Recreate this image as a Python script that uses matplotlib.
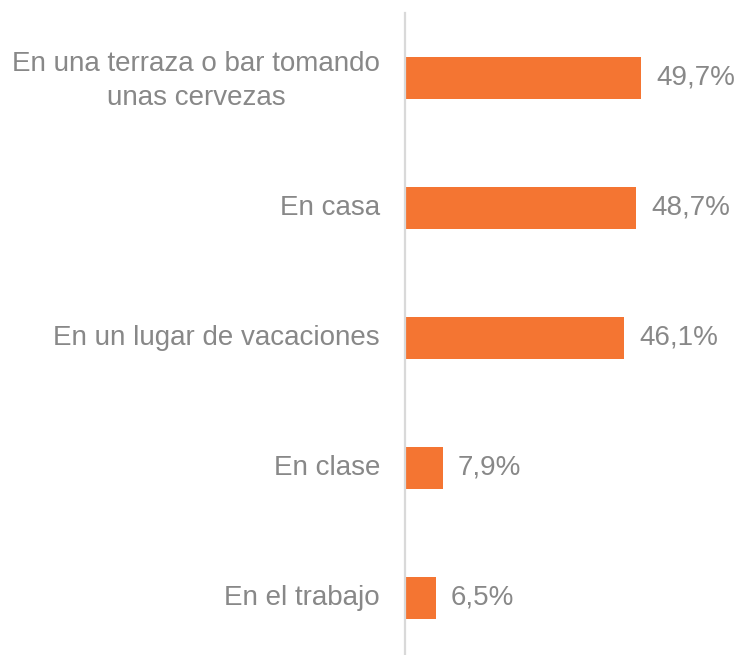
import matplotlib
matplotlib.use("Agg")
import matplotlib.pyplot as plt

categories = ["En una terraza o bar tomando\nunas cervezas", "En casa",
              "En un lugar de vacaciones", "En clase", "En el trabajo"]
values = [49.7, 48.7, 46.1, 7.9, 6.5]
value_labels = ["49,7%", "48,7%", "46,1%", "7,9%", "6,5%"]

W, H = 737, 655
fig = plt.figure(figsize=(W/100, H/100), dpi=100)
plt.rcParams['font.family'] = ['Liberation Sans', 'DejaVu Sans']

ax_left = 405 / W
ax_top = 13 / H
ax = fig.add_axes([ax_left, 0, 1 - ax_left, 1 - ax_top])
px_per_unit = 4.75
ax.set_xlim(0, (W - 405) / px_per_unit)
ax.set_ylim(4 + 57/130, -0.5)

orange = '#F47532'
gray = '#888888'
ypos = list(range(len(categories)))
ax.barh(ypos, values, height=0.323, color=orange, left=0)

for y, v, lab in zip(ypos, values, value_labels):
    ax.text(v + 15/px_per_unit, y, lab, va='center', ha='left', fontsize=20, color=gray)

for y, c in zip(ypos, categories):
    dy = 3/130 if '\n' in c else 0
    ax.text(-25/px_per_unit, y + dy, c, va='center', ha='right', multialignment='center',
            fontsize=20, color=gray, linespacing=1.4, clip_on=False)

for s in ['top', 'right', 'bottom']:
    ax.spines[s].set_visible(False)
ax.spines['left'].set_color('#D9D9D9')
ax.spines['left'].set_linewidth(1.6)
ax.set_xticks([])
ax.set_yticks([])
ax.patch.set_alpha(0)

fig.savefig('out.png', dpi=100)
